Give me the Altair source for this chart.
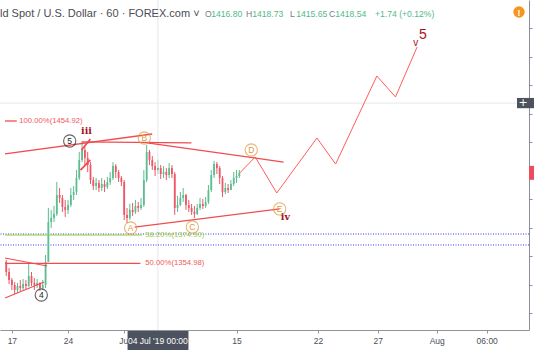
import altair as alt
import pandas as pd

W, H = 529, 330
X_DOMAIN = [-0.611, 45.59]          # trading-day index, 0 = 17 Jun 00:00
Y_DOMAIN = [1308.25, 1539.83]       # price

# ---------------- candles (6h bars) ----------------
first_open = 1356.0
closes = [1349.0, 1343.3, 1339.8, 1336.3, 1339.1, 1337.7, 1340.5, 1339.1, 1346.2, 1341.2,
          1339.8, 1341.2, 1337.7, 1339.8, 1356.0, 1384.0, 1386.9, 1389.7, 1403.0, 1400.9,
          1394.6, 1392.5, 1396.0, 1403.0, 1405.1, 1414.9, 1427.6, 1434.6, 1429.0, 1424.0,
          1413.5, 1409.3, 1411.4, 1407.9, 1410.7, 1408.6, 1412.1, 1414.9, 1423.3, 1419.1,
          1414.9, 1412.1, 1389.0, 1386.9, 1392.5, 1391.1, 1395.3, 1393.9, 1396.0, 1413.5,
          1433.2, 1427.6, 1423.3, 1420.5, 1421.9, 1417.7, 1419.1, 1417.0, 1421.9, 1417.7,
          1393.9, 1396.0, 1400.9, 1403.0, 1396.0, 1393.9, 1391.1, 1389.7, 1393.9, 1396.7,
          1395.3, 1398.1, 1406.5, 1417.0, 1424.7, 1421.9, 1414.9, 1405.1, 1407.9, 1406.5,
          1410.7, 1414.9, 1416.3, 1418.54]
highs = [1357.4, 1351.8, 1344.7, 1341.9, 1341.2, 1343.3, 1344.0, 1343.3, 1354.6, 1349.0,
         1344.7, 1344.0, 1341.9, 1343.3, 1360.9, 1393.9, 1392.5, 1395.3, 1412.1, 1407.9,
         1403.0, 1399.5, 1399.5, 1407.9, 1409.3, 1420.5, 1433.2, 1440.2, 1437.4, 1433.2,
         1426.1, 1415.6, 1414.9, 1413.5, 1414.9, 1413.5, 1415.6, 1419.1, 1426.1, 1424.7,
         1420.5, 1416.3, 1413.5, 1393.9, 1396.7, 1397.4, 1399.5, 1398.1, 1400.9, 1420.5,
         1438.1, 1434.6, 1430.4, 1426.1, 1427.6, 1424.0, 1423.3, 1421.9, 1425.4, 1424.0,
         1419.1, 1402.3, 1405.1, 1407.9, 1403.7, 1399.5, 1396.7, 1395.3, 1396.7, 1400.9,
         1400.2, 1401.6, 1410.0, 1420.5, 1426.9, 1426.1, 1423.3, 1416.3, 1411.4, 1410.7,
         1413.5, 1419.1, 1420.5, 1420.5]
lows = [1346.2, 1340.5, 1336.3, 1333.5, 1334.2, 1335.6, 1336.3, 1337.0, 1338.4, 1339.1,
        1336.3, 1337.7, 1335.6, 1336.3, 1337.7, 1356.0, 1379.8, 1384.0, 1388.3, 1397.4,
        1391.1, 1387.6, 1389.7, 1394.6, 1399.5, 1403.0, 1413.5, 1426.1, 1424.0, 1419.1,
        1410.7, 1406.5, 1406.5, 1405.1, 1405.8, 1405.1, 1407.2, 1410.0, 1413.5, 1414.9,
        1412.1, 1409.3, 1385.4, 1383.3, 1385.4, 1388.3, 1389.7, 1391.1, 1392.5, 1394.6,
        1412.1, 1424.0, 1420.5, 1416.3, 1417.7, 1414.2, 1414.9, 1413.5, 1414.9, 1414.9,
        1389.0, 1391.1, 1395.3, 1398.1, 1392.5, 1391.1, 1389.0, 1386.9, 1389.0, 1392.5,
        1393.2, 1393.9, 1396.7, 1405.1, 1414.9, 1417.7, 1410.7, 1401.6, 1403.7, 1404.4,
        1406.5, 1409.3, 1411.4, 1414.9]
bar_t = [-0.5 + 0.25 * i for i in range(len(closes))]
opens = [first_open] + closes[:-1]

# ---------------- projected path ----------------
proj_t = [20.3, 21.66, 23.58, 27.16, 28.82, 32.49, 34.15, 36.07]
proj_p = [1418.54, 1429.7, 1404.4, 1443.0, 1424.7, 1486.5, 1471.8, 1506.8]

# ---------------- drawn segments ----------------
seg_t1 = [-0.611, 6.20, 12.05, 10.92, -0.611, -0.611, 6.20, 6.11, -0.611, -0.611, -0.611]
seg_p1 = [1431.8, 1440.2, 1439.5, 1380.5, 1358.8, 1330.7, 1434.6, 1420.5, 1454.92, 1354.98, 1374.90]
seg_t2 = [12.49, 15.98, 24.19, 23.84, 3.14, 2.88, 6.99, 6.99, 0.437, 11.44, 11.6]
seg_p2 = [1445.8, 1439.5, 1426.1, 1393.2, 1353.2, 1341.9, 1442.3, 1427.6, 1454.92, 1354.98, 1374.90]
seg_col = ["#f24b4f"] * 10 + ["#9ccc3c"]
seg_w = [1.3, 1.3, 1.3, 1.3, 1.1, 1.1, 1.8, 1.8, 1.3, 1.3, 1.0]

# fib labels
fib_level = [100.0, 50.0, 38.2]
fib_price = [1454.92, 1354.98, 1374.90]
fib_label_t = [0.66, 11.88, 11.88]
fib_col = ["#f25a5a", "#f25a5a", "#9ccc3c"]

# blue horizontal dotted lines
blue_p = [1375.6, 1367.9]

# circled wave labels
circ_lab = ["5", "4", "B", "A", "C", "D", "E"]
circ_t = [5.15, 2.62, 11.79, 10.57, 16.07, 21.31, 23.84]
circ_p = [1440.9, 1332.8, 1443.0, 1379.8, 1380.5, 1434.6, 1393.2]
circ_col = ["#222222", "#222222", "#dc9a3e", "#dc9a3e", "#dc9a3e", "#dc9a3e", "#dc9a3e"]

# roman wave labels (serif) and final wave label (sans)
roman_lab = ["iii", "iv"]
roman_t = [6.64, 24.35]
roman_p = [1447.9, 1387.6]
final_lab = ["v", "5"]
final_t = [35.95, 36.6]
final_p = [1509.4, 1515.0]
final_size = [10, 14]

# crosshair
cross_t = 13.0
cross_p = 1467.5

# axes
tick_t = [0, 5, 10, 20, 27.25, 32.58, 37.82, 42.27]
tick_lab = ["17", "24", "Jul", "15", "22", "27", "Aug", "06:00"]
price_ticks = list(range(1320, 1540, 20))

# header
title_txt = "ld Spot / U.S. Dollar · 60 · FOREX.com ˅"
ohlc_keys = ["O", "H", "L", "C"]
ohlc_vals = ["1416.80", "1418.73", "1415.65", "1418.54"]
ohlc_key_x = [205, 246, 290, 329]
change_txt = "+1.74 (+0.12%)"
last_price = 1418.54

# ======================================================================
xs = alt.Scale(domain=X_DOMAIN, nice=False, zero=False)
ys = alt.Scale(domain=Y_DOMAIN, nice=False, zero=False)
label_expr = " : ".join(f"datum.value == {v} ? '{l}'" for v, l in zip(tick_t, tick_lab)) + " : ''"

x_axis = alt.Axis(values=tick_t, labelExpr=label_expr, grid=False, domainColor="#8f939c",
                  tickColor="#8f939c", tickSize=3, labelColor="#4c4f58", labelFontSize=8.5,
                  labelFont="Liberation Sans", labelPadding=3, labelOverlap=False, title=None)
y_axis = alt.Axis(orient="right", values=price_ticks, labels=False, grid=False,
                  domainColor="#8a8e98", tickColor="#8a8e98", tickSize=3, title=None)


def X(f):
    return alt.X(f, type="quantitative", scale=xs, axis=x_axis, title=None)


def Y(f):
    return alt.Y(f, type="quantitative", scale=ys, axis=y_axis, title=None)


candles = pd.DataFrame(dict(t=bar_t, o=opens, h=highs, l=lows, c=closes))
candles["dir"] = ["up" if c >= o else "down" for o, c in zip(opens, closes)]
cscale = alt.Scale(domain=["up", "down"], range=["#5cbd90", "#ec5766"])

wicks = alt.Chart(candles).mark_rule(strokeWidth=1).encode(
    x=X("t"), y=Y("l"), y2="h",
    color=alt.Color("dir:N", scale=cscale, legend=None))
bodies = alt.Chart(candles).mark_bar(size=1.8).encode(
    x=X("t"), y=Y("o"), y2="c", color=alt.Color("dir:N", scale=cscale, legend=None))

blue = alt.Chart(pd.DataFrame(dict(p=blue_p))).mark_rule(
    color="#2f36f0", strokeDash=[1, 1.5], strokeWidth=1).encode(y=Y("p"))

segs = alt.Chart(pd.DataFrame(dict(t=seg_t1, p=seg_p1, t2=seg_t2, p2=seg_p2, col=seg_col, w=seg_w))
                 ).mark_rule().encode(
    x=X("t"), y=Y("p"), x2="t2", y2="p2",
    color=alt.Color("col:N", scale=None), strokeWidth=alt.StrokeWidth("w:Q", scale=None))

fibtxt = alt.Chart(pd.DataFrame(dict(
    t=fib_label_t, p=fib_price, col=fib_col,
    s=[f"{l:.2f}%({p:.2f})" for l, p in zip(fib_level, fib_price)]))).mark_text(
    align="left", baseline="middle", fontSize=7.7, font="Liberation Sans").encode(
    x=X("t"), y=Y("p"), text="s:N", color=alt.Color("col:N", scale=None))

proj = alt.Chart(pd.DataFrame(dict(t=proj_t, p=proj_p, i=list(range(len(proj_t)))))).mark_line(
    color="#ff5c5c", strokeWidth=1).encode(x=X("t"), y=Y("p"), order="i:Q")

cross_v = alt.Chart(pd.DataFrame(dict(t=[cross_t]))).mark_rule(
    color="#e6e7ea", strokeWidth=1).encode(x=X("t"))
cross_h = alt.Chart(pd.DataFrame(dict(p=[cross_p]))).mark_rule(
    color="#e6e7ea", strokeWidth=1).encode(y=Y("p"))

cdf = pd.DataFrame(dict(t=circ_t, p=circ_p, s=circ_lab, col=circ_col))
circles = alt.Chart(cdf).mark_point(shape="circle", filled=False, size=150, strokeWidth=1.1).encode(
    x=X("t"), y=Y("p"), color=alt.Color("col:N", scale=None))
circtxt = alt.Chart(cdf).mark_text(fontSize=8.5, font="Liberation Sans", baseline="middle").encode(
    x=X("t"), y=Y("p"), text="s:N", color=alt.Color("col:N", scale=None))

romantxt = alt.Chart(pd.DataFrame(dict(t=roman_t, p=roman_p, s=roman_lab))).mark_text(
    color="#a8111b", fontWeight="bold", font="DejaVu Serif", fontSize=9.5, baseline="middle").encode(
    x=X("t"), y=Y("p"), text="s:N")
finaltxt = alt.Chart(pd.DataFrame(dict(t=final_t, p=final_p, s=final_lab, fs=final_size))).mark_text(
    color="#a8111b", font="Liberation Sans", baseline="middle").encode(
    x=X("t"), y=Y("p"), text="s:N", size=alt.Size("fs:Q", scale=None, legend=None))

# right-side price tag & crosshair marker
price_tag = alt.Chart(pd.DataFrame(dict(p=[last_price + 4.9], p2=[last_price - 4.9]))).mark_rect(
    color="#ec4d5c").encode(x=alt.value(529), x2=alt.value(540), y=Y("p"), y2="p2")
plus_box = alt.Chart(pd.DataFrame(dict(p=[cross_p + 3.6], p2=[cross_p - 3.6]))).mark_rect(
    color="#4c525e").encode(x=alt.value(517), x2=alt.value(534), y=Y("p"), y2="p2")
plus_txt = alt.Chart(pd.DataFrame(dict(p=[cross_p], s=["+"]))).mark_text(
    color="white", fontSize=11, baseline="middle", font="DejaVu Sans").encode(
    x=alt.value(523), y=Y("p"), text="s:N")

# date box on the time axis
date_box = alt.Chart(pd.DataFrame(dict(t=[cross_t - 2.7], t2=[cross_t + 2.72]))).mark_rect(
    color="#4c525e").encode(x=X("t"), x2="t2", y=alt.value(331), y2=alt.value(350))
date_txt = alt.Chart(pd.DataFrame(dict(t=[cross_t], s=["04 Jul '19   00:00"]))).mark_text(
    color="white", fontSize=8.5, font="Liberation Sans", baseline="middle").encode(
    x=X("t"), y=alt.value(341), text="s:N")


def header_text(x, s, color, size=8.6, align="left"):
    return alt.Chart(pd.DataFrame(dict(s=[s]))).mark_text(
        align=align, baseline="middle", fontSize=size, font="Liberation Sans", color=color
    ).encode(x=alt.value(x), y=alt.value(14), text="s:N")


header = [header_text(0, title_txt, "#4a4c55", 11)]
for kx, k, v in zip(ohlc_key_x, ohlc_keys, ohlc_vals):
    header.append(header_text(kx, k, "#787b86"))
    header.append(header_text(kx + 6.2, v, "#53b987"))
header.append(header_text(375, change_txt, "#53b987"))

warn_dot = alt.Chart(pd.DataFrame(dict(s=["!"]))).mark_point(
    shape="circle", filled=True, size=130, color="#f7941d", opacity=1).encode(
    x=alt.value(519), y=alt.value(12))
warn_txt = alt.Chart(pd.DataFrame(dict(s=["!"]))).mark_text(
    color="white", fontSize=9, fontWeight="bold", baseline="middle").encode(
    x=alt.value(519), y=alt.value(12.5), text="s:N")

chart = alt.layer(
    wicks, cross_v, cross_h, blue, bodies, segs, fibtxt, proj, circles, circtxt, romantxt, finaltxt,
    price_tag, plus_box, plus_txt, date_box, date_txt, *header, warn_dot, warn_txt
).properties(
    width=W, height=H,
    padding={"left": 0, "top": 0, "right": 5, "bottom": 21},
    autosize=alt.AutoSizeParams(type="none"),
    background="white",
).configure_view(stroke=None)

chart.save("out.html", embed_options={"renderer": "svg", "actions": False})
